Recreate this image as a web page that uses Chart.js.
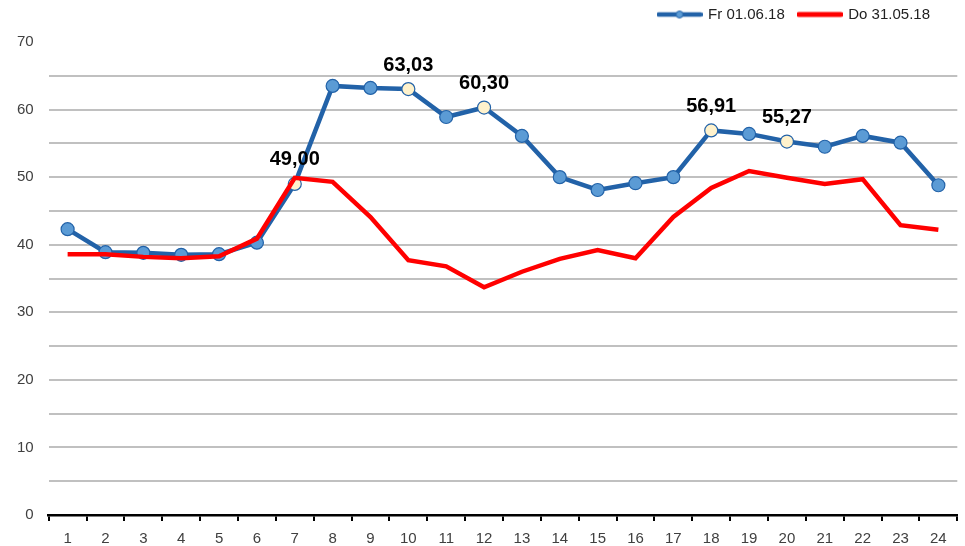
<!DOCTYPE html>
<html>
<head>
<meta charset="utf-8">
<script src="https://cdn.jsdelivr.net/npm/chart.js@4/dist/chart.umd.min.js"></script>
<style>
  html, body { margin: 0; padding: 0; background: #fff; }
  #wrap { width: 965px; height: 546px; }
</style>
</head>
<body>
<div id="wrap"><canvas id="c" width="965" height="546"></canvas></div>
<script>
// Hours of the day
const hours = ["1","2","3","4","5","6","7","8","9","10","11","12","13","14","15","16","17","18","19","20","21","22","23","24"];
// Fr 01.06.18
const friday = [42.3,38.9,38.8,38.5,38.6,40.3,49.00,63.5,63.2,63.03,58.9,60.30,56.1,50.0,48.1,49.1,50.0,56.91,56.4,55.27,54.5,56.1,55.1,48.8];
// Do 31.05.18
const thursday = [38.6,38.6,38.2,38.0,38.3,40.9,49.9,49.3,44.1,37.7,36.8,33.7,36.0,37.9,39.2,38.0,44.1,48.4,50.9,49.9,49.0,49.7,42.9,42.2];
// hours with a value label (and a pale marker)
const labeled = ["7","10","12","18","20"];
const yTicks = [0,10,20,30,40,50,60,70];

const BLUE = "#2262A8", BLUE_PT = "#5B9BD5", CREAM = "#FFF2CC", RED = "#FF0000";
const FONT = "'Liberation Sans', Arial, sans-serif";

// little legend swatches
function swatch(color, width, dot){
  const c = document.createElement("canvas");
  c.width = 46; c.height = 12;
  const g = c.getContext("2d");
  g.strokeStyle = color; g.lineWidth = width; g.lineCap = "round";
  g.beginPath(); g.moveTo(2,6); g.lineTo(44,6); g.stroke();
  if (dot){
    g.fillStyle = BLUE_PT; g.strokeStyle = BLUE; g.lineWidth = 1;
    g.beginPath(); g.arc(23,6,3.5,0,Math.PI*2); g.fill(); g.stroke();
  }
  return c;
}

const isLabeled = i => labeled.includes(hours[i]);

const valueLabels = {
  id: "valueLabels",
  afterDatasetsDraw(chart){
    const meta = chart.getDatasetMeta(0);
    const g = chart.ctx;
    g.save();
    g.font = "bold 20px " + FONT;
    g.fillStyle = "#000";
    g.textAlign = "center";
    g.textBaseline = "bottom";
    meta.data.forEach((pt, i) => {
      if (!isLabeled(i)) return;
      g.fillText(friday[i].toFixed(2).replace(".", ","), pt.x, pt.y - 14);
    });
    g.restore();
  }
};

// more room under the legend, and keep it off the right edge
const legendFit = {
  id: "legendFit",
  beforeLayout(chart){
    const lg = chart.legend;
    if (!lg || lg._patched) return;
    const fit = lg.fit.bind(lg);
    lg.fit = function(){ fit(); this.height += 10; this.lineWidths[0] += 14; };
    lg._patched = true;
  }
};

new Chart(document.getElementById("c"), {
  type: "line",
  data: {
    labels: hours,
    datasets: [
      { label: "Fr 01.06.18", data: friday, order: 1,
        borderColor: BLUE, borderWidth: 4.5,
        pointRadius: 6.5, pointHoverRadius: 6.5, pointBorderWidth: 1.2,
        pointBorderColor: BLUE,
        pointBackgroundColor: ctx => isLabeled(ctx.dataIndex) ? CREAM : BLUE_PT },
      { label: "Do 31.05.18", data: thursday, order: 0,
        borderColor: RED, borderWidth: 4.5, pointRadius: 0 }
    ]
  },
  options: {
    responsive: false,
    animation: false,
    layout: { padding: { left: 2, right: 7, top: -7, bottom: -11 } },
    plugins: {
      tooltip: { enabled: false },
      legend: {
        position: "top", align: "end",
        labels: {
          usePointStyle: true, pointStyleWidth: 42, boxHeight: 12,
          padding: 14, color: "#222", font: { family: FONT, size: 15 },
          generateLabels: () => [
            { text: "Fr 01.06.18", pointStyle: swatch(BLUE, 4.5, true), datasetIndex: 0, fontColor: "#222" },
            { text: "Do 31.05.18", pointStyle: swatch(RED, 5, false), datasetIndex: 1, fontColor: "#222" }
          ]
        }
      }
    },
    scales: {
      x: {
        offset: true,
        grid: { offset: true, drawOnChartArea: false, drawTicks: true, tickLength: 6, color: "#000", lineWidth: 2 },
        border: { display: true, color: "#000", width: 2.5 },
        ticks: { color: "#404040", font: { family: FONT, size: 15 }, padding: 9 }
      },
      y: {
        min: 0, max: 70,
        afterBuildTicks: s => { s.ticks = []; for (let v = 0; v <= 70; v += 5) s.ticks.push({ value: v }); },
        grid: {
          drawTicks: false,
          lineWidth: 2,
          color: ctx => (ctx.tick && (ctx.tick.value === 70 || ctx.tick.value === 0)) ? "rgba(0,0,0,0)" : "#C0C0C0"
        },
        border: { display: false },
        ticks: {
          color: "#404040", font: { family: FONT, size: 15 }, padding: 15,
          callback: v => yTicks.includes(v) ? String(v) : ""
        }
      }
    }
  },
  plugins: [valueLabels, legendFit]
});
</script>
</body>
</html>
